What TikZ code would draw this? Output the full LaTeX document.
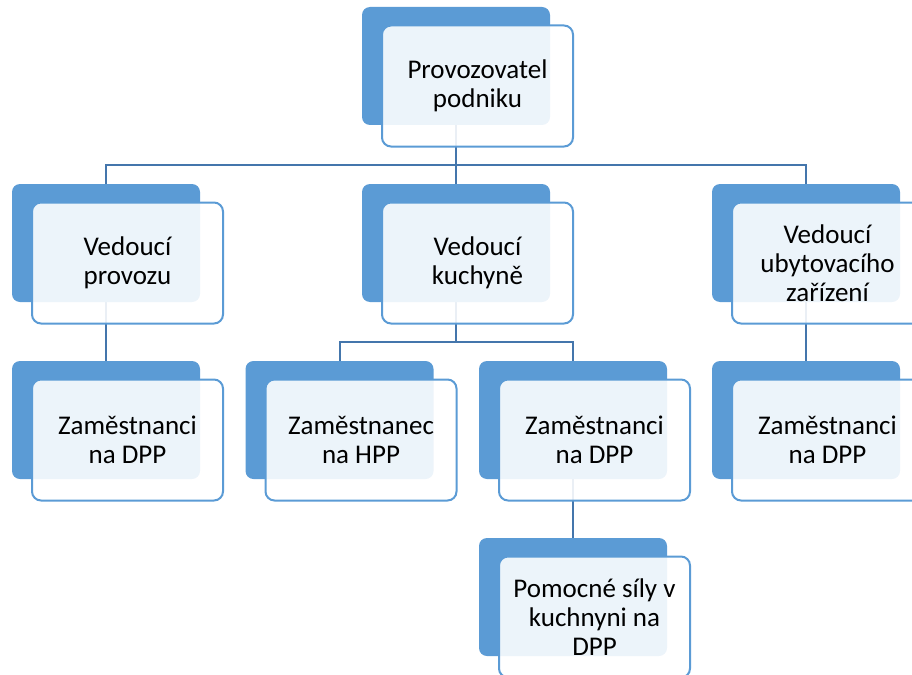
\documentclass[tikz,border=0pt]{standalone}
\usepackage{fontspec}
\setmainfont{Carlito}
\usetikzlibrary{calc}
\definecolor{backblue}{RGB}{91,155,213}
\definecolor{edgeblue}{RGB}{91,155,213}
\definecolor{connblue}{RGB}{68,118,172}
\tikzset{
  backbox/.style={draw=none, fill=backblue, rounded corners=8pt, minimum width=188pt, minimum height=118pt, inner sep=0pt},
  frontbox/.style={draw=edgeblue, line width=2pt, fill=white, fill opacity=0.89, text opacity=1, rounded corners=9pt, minimum width=191pt, minimum height=121pt, inner sep=0pt, align=center, font=\fontsize{27}{29}\selectfont},
  conn/.style={draw=connblue, line width=2pt}
}
\begin{document}
\begin{tikzpicture}[x=1pt, y=-1pt]
\useasboundingbox (0,0) rectangle (912,674);
\clip (0,0) rectangle (912,674);
% bus coordinates
\coordinate (bus1) at (0,165);
\coordinate (bus2) at (0,342);
\path
  (456,66)  coordinate (cT)
  (106,243) coordinate (cA)
  (456,243) coordinate (cB)
  (806,243) coordinate (cC)
  (106,420) coordinate (cA1)
  (339.5,420) coordinate (cB1)
  (573,420) coordinate (cB2)
  (806,420) coordinate (cC1)
  (573,597) coordinate (cB3);
% connectors
\draw[conn] (cT) -- (cT |- bus1) -| (cA);
\draw[conn] (cT |- bus1) -| (cB);
\draw[conn] (cT |- bus1) -| (cC);
\draw[conn] (cA) -- (cA1);
\draw[conn] (cC) -- (cC1);
\draw[conn] (cB) -- (cB |- bus2) -| (cB1);
\draw[conn] (cB |- bus2) -| (cB2);
\draw[conn] (cB2) -- (cB3);
% boxes
\foreach \n/\t in {T/{Provozovatel\\podniku},
                   A/{Vedoucí\\provozu},
                   B/{Vedoucí\\kuchyně},
                   C/{Vedoucí\\ubytovacího\\zařízení},
                   A1/{Zaměstnanci\\na DPP},
                   B1/{Zaměstnanec\\na HPP},
                   B2/{Zaměstnanci\\na DPP},
                   C1/{Zaměstnanci\\na DPP},
                   B3/{Pomocné síly v\\kuchnyni na\\DPP}}{
  \node[backbox] (back\n) at (c\n) {};
  \node[frontbox] (front\n) at ($(c\n)+(21.5,20)$) {\t};
}
\end{tikzpicture}
\end{document}
